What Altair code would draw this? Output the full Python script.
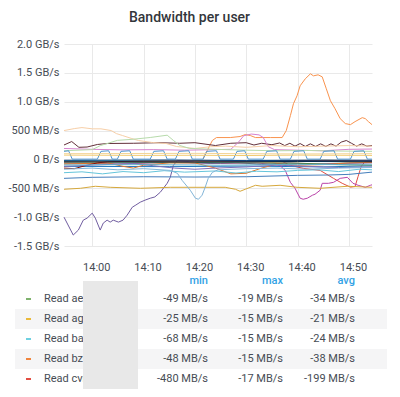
import altair as alt
import pandas as pd

TITLE = "Bandwidth per user"

# x: minutes after 14:00, y: MB/s
x_ticks = [0, 10, 20, 30, 40, 50]
x_labels = ["14:00", "14:10", "14:20", "14:30", "14:40", "14:50"]
x_range = [-5.5, 54.5]
y_ticks = [-1500, -1000, -500, 0, 500, 1000, 1500, 2000]
y_labels = ["-1.5 GB/s", "-1.0 GB/s", "-500 MB/s", "0 B/s", "500 MB/s", "1.0 GB/s", "1.5 GB/s", "2.0 GB/s"]
y_range = [-1500, 2000]

# ---- series (time in minutes after 14:00, value in MB/s) ----
read_ae_t = [-5.5, -1, 4, 9, 14, 19, 24, 29, 34, 39, 44, 49, 54.5]
read_ae_v = [-30, -36, -28, -40, -33, -45, -30, -19, -38, -34, -30, -42, -49]
read_ag_t = [-5.5, 5, 15, 25, 35, 45, 54.5]
read_ag_v = [-20, -22, -18, -24, -21, -15, -25]
read_ba_t = [-5.5, 0, 8, 16, 20, 26, 32, 40, 46, 50, 54.5]
read_ba_v = [-20, -18, -25, -22, -68, -30, -15, -20, -24, -20, -28]
read_bz_t = [-5.5, 5, 15, 25, 35, 45, 54.5]
read_bz_v = [-40, -35, -45, -38, -48, -30, -15]
read_cv_t = [36.6, 38.6, 41.1, 44.4, 47.0, 48.7, 50.3, 51.2, 51.8, 52.4, 53.2, 54.5]
read_cv_v = [-17, -103, -155, -190, -328, -414, -480, -470, -293, -121, -30, -40]
read_dh_t = [-5.5, 15, 30, 45, 54.5]
read_dh_v = [-120, -125, -115, -130, -110]
read_ek_t = [-5.5, 5, 15, 25, 32, 36.5, 37.6, 38.6, 39.5, 40.5, 41.1, 41.9, 42.9, 43.4, 44.4, 44.8,
             46.0, 47.0, 48.3, 49.7, 50.8, 51.8, 53.2, 54.2, 54.5]
read_ek_v = [-60, -80, -50, -70, -60, -100, -190, -397, -500, -672, -690, -672, -620, -603, -534, -414,
             -414, -397, -328, -310, -414, -448, -483, -448, -440]
read_fm_t = [-5.5, -3.7, -2.7, -1.75, -1.0, 0, 0.6, 1.55, 2.15, 2.9, 3.5, 4.1, 5.1, 6.0, 6.8, 7.8,
             8.5, 9.35, 10.3, 11.3, 12.2, 13.25, 14.6, 15.2, 15.8, 16.6, 19, 23, 28, 33, 38, 43, 48, 54.5]
read_fm_v = [-1000, -1310, -1224, -1052, -1017, -931, -1017, -1224, -1103, -1052, -1086, -1052, -1086,
             -1052, -966, -828, -790, -741, -705, -672, -650, -569, -414, -310, -103, -17, -40, -70,
             -50, -90, -60, -80, -70, -60]
read_gp_t = [-5.5, 20, 40, 48, 54.5]
read_gp_v = [-60, -55, -65, -90, -100]
read_hs_t = [-5.5, -2.3, 0.6, 3.5, 9.4, 15.2, 21, 25.9, 27.9, 28.8, 29.8, 31.8, 33.1, 36.6, 39.9, 44.4, 49.7, 54.5]
read_hs_v = [-517, -500, -465, -483, -500, -483, -483, -483, -517, -552, -517, -448, -465, -448, -483, -500, -465, -483]
read_jt_t = [-5.5, 0, 10, 20, 30, 40, 46, 50, 54.5]
read_jt_v = [-328, -310, -300, -305, -300, -276, -270, -259, -220]
read_kv_t = [-5.5, 3, 6, 8, 10, 15, 20, 24, 27, 30, 33, 36, 40, 45, 50, 54.5]
read_kv_v = [-80, -60, -120, -150, -100, -60, -60, -150, -250, -240, -150, -80, -100, -90, -60, -50]
read_lx_t = [-5.5, -3.5, -1, 1, 3, 10, 20, 30, 40, 54.5]
read_lx_v = [-150, -160, -100, -60, -40, -30, -25, -30, -20, -25]
read_mz_t = [-5.5, 15, 30, 45, 54.5]
read_mz_v = [-15, -10, -20, -12, -15]
read_nb_t = [-5.5, 5, 8, 12, 16, 20, 24, 30, 36, 42, 48, 54.5]
read_nb_v = [-120, -80, -70, -110, -150, -170, -150, -130, -100, -120, -140, -130]
read_pc_t = [-5.5, -2, 2, 6, 10, 14, 18, 24, 28, 32, 36, 40, 44, 48, 52, 54.5]
read_pc_v = [-230, -215, -250, -210, -230, -195, -220, -200, -235, -205, -215, -190, -180, -210, -170, -180]
read_qd_t = [-5.5, 0, 5, 10, 15.2, 16.6, 17.5, 19.1, 20.1, 20.7, 21.4, 22.0, 22.6, 23.4, 24.5, 30, 36, 42, 48, 54.5]
read_qd_v = [-170, -150, -180, -160, -190, -241, -362, -534, -672, -690, -620, -483, -328, -224, -180, -160, -150, -170, -150, -140]
read_rf_t = [-5.5, 10, 25, 40, 54.5]
read_rf_v = [-95, -90, -100, -85, -95]
read_sg_t = [-5.5, 20, 40, 54.5]
read_sg_v = [-40, -45, -35, -40]

write_a_t = [21.6, 22.4, 23.4, 24.2, 26.9, 28.8, 29.8, 30.8, 31.8, 34.7, 37.0, 37.8, 38.6, 39.2, 39.9,
             40.5, 41.5, 42.5, 43.1, 44.0, 44.8, 45.6, 46.4, 47.3, 48.3, 49.3, 50.3, 51.2, 52.6, 53.2, 53.8, 54.5]
write_a_v = [17, 155, 328, 379, 379, 397, 431, 414, 379, 379, 379, 500, 759, 966, 1103, 1276, 1397,
             1483, 1448, 1466, 1431, 1224, 1017, 879, 707, 621, 603, 655, 724, 707, 655, 603]
write_b_t = [-5.5, -4.0, -2.6, -1.0, 1, 3, 8, 13, 17, 20, 24, 27, 30, 31.5, 33, 35, 36.5, 37.5, 38.5,
             39.5, 40.5, 41.5, 42.5, 43.5, 44.5, 45.5, 46.5, 47.5, 48.5, 49.5, 50.5, 51.5, 52.5, 53.5, 54.5]
write_b_v = [250, 310, 210, 215, 259, 276, 280, 290, 280, 290, 241, 280, 290, 250, 280, 255, 285, 240,
             280, 230, 275, 225, 270, 225, 270, 225, 270, 230, 300, 328, 280, 230, 270, 230, 241]
write_c_t = [-5.5, 0, 6, 12, 18, 24, 27, 28.5, 29.5, 31, 32.5, 33.3, 34.3, 35.5, 40, 45, 50, 54.5]
write_c_v = [190, 175, 165, 170, 160, 170, 175, 300, 410, 440, 425, 380, 220, 170, 160, 150, 175, 180]
write_d_t = [-5.5, -3.5, -2, 0, 1.7, 3.7, 4.7, 5.9, 7.7, 9.0, 11.7, 14.4, 16.4, 20, 23, 26, 30, 35, 40, 45, 50, 54.5]
write_d_v = [500, 534, 552, 530, 530, 500, 448, 414, 362, 328, 293, 276, 224, 190, 220, 230, 210, 240, 220, 230, 240, 230]
write_e_t = [-5.5, 0, 1.6, 4.9, 8, 11.3, 14.6, 15.8, 17.1, 19, 24, 30, 36, 42, 48, 54.5]
write_e_v = [150, 170, 240, 330, 350, 380, 420, 330, 240, 190, 175, 160, 150, 155, 145, 140]
write_f_t = [-5.5, -4.6, -3.9, 1.0, 1.7, 3.2, 3.9, 4.9, 5.6, 7.3, 8.0, 11.3, 12.0, 13.9, 14.6,
             16.2, 16.9, 18.8, 19.5, 21.6, 22.3, 24.2, 24.9, 27.5, 28.2, 29.7, 30.4, 33.3, 34.0, 35.9, 36.6,
             38.6, 39.3, 41.2, 41.9, 44.4, 45.1, 47.1, 47.8, 50.3, 51.0, 52.9, 53.6, 54.5]
write_f_v = [140, 150, 5, 5, 140, 150, 5, 5, 140, 150, 5, 5, 140, 150, 5,
             5, 140, 150, 5, 5, 140, 150, 5, 5, 140, 150, 5, 5, 140, 150, 5,
             5, 140, 150, 5, 5, 140, 150, 5, 5, 140, 150, 5, 5]
write_g_t = [-5.5, 10, 20, 30, 40, 54.5]
write_g_v = [75, 70, 72, 68, 75, 70]
write_h_t = [-5.5, 20, 40, 54.5]
write_h_v = [100, 105, 95, 100]

series_names = ["Read ae", "Read ag", "Read ba", "Read bz", "Read cv", "Read dh", "Read ek", "Read fm",
                "Read gp", "Read hs", "Read jt", "Read kv", "Read lx", "Read mz", "Read nb", "Read pc",
                "Read qd", "Read rf", "Read sg", "Write al", "Write bm", "Write cn", "Write do",
                "Write ep", "Write fq", "Write gr", "Write hs"]
series_colors = ["#7EB26D", "#EAB839", "#6ED0E0", "#EF843C", "#E24D42", "#1F78C1", "#BA43A9", "#705DA0",
                 "#508642", "#D6A83C", "#447EBC", "#E0752D", "#890F02", "#0A437C", "#806EB7", "#65C5DB",
                 "#82B5D8", "#64B0C8", "#052B51", "#F9934E", "#63303A", "#D683CE", "#F7CFA8",
                 "#B7DBAB", "#5195CE", "#F2C96D", "#F4D598"]
series_t = [read_ae_t, read_ag_t, read_ba_t, read_bz_t, read_cv_t, read_dh_t, read_ek_t, read_fm_t,
            read_gp_t, read_hs_t, read_jt_t, read_kv_t, read_lx_t, read_mz_t, read_nb_t, read_pc_t,
            read_qd_t, read_rf_t, read_sg_t, write_a_t, write_b_t, write_c_t, write_d_t, write_e_t,
            write_f_t, write_g_t, write_h_t]
series_v = [read_ae_v, read_ag_v, read_ba_v, read_bz_v, read_cv_v, read_dh_v, read_ek_v, read_fm_v,
            read_gp_v, read_hs_v, read_jt_v, read_kv_v, read_lx_v, read_mz_v, read_nb_v, read_pc_v,
            read_qd_v, read_rf_v, read_sg_v, write_a_v, write_b_v, write_c_v, write_d_v, write_e_v,
            write_f_v, write_g_v, write_h_v]

# ---- legend table ----
legend_names = ["Read aem-user", "Read agr-user", "Read bal-user", "Read bzu-user", "Read cvn-user"]
legend_colors = ["#7EB26D", "#EAB839", "#6ED0E0", "#EF843C", "#E24D42"]
legend_min = ["-49 MB/s", "-25 MB/s", "-68 MB/s", "-48 MB/s", "-480 MB/s"]
legend_max = ["-19 MB/s", "-15 MB/s", "-15 MB/s", "-15 MB/s", "-17 MB/s"]
legend_avg = ["-34 MB/s", "-21 MB/s", "-24 MB/s", "-38 MB/s", "-199 MB/s"]
legend_headers = ["min", "max", "avg"]

rows = []
for name, ts, vs in zip(series_names, series_t, series_v):
    for t, v in zip(ts, vs):
        rows.append({"series": name, "t": t, "v": v})
df = pd.DataFrame(rows)


def label_expr(vals, labels):
    expr = "''"
    for v, l in reversed(list(zip(vals, labels))):
        expr = f"datum.value == {v} ? '{l}' : ({expr})"
    return expr


FONT = "Roboto"
TXT = "#464c54"
ROW_H = 100  # table body height (5 rows)

lines = alt.Chart(df).mark_line(strokeWidth=1).encode(
    x=alt.X("t:Q", scale=alt.Scale(domain=x_range, nice=False, zero=False),
            axis=alt.Axis(values=x_ticks, labelExpr=label_expr(x_ticks, x_labels), title=None,
                          labelPadding=15, labelFlush=False, labelOffset=4)),
    y=alt.Y("v:Q", scale=alt.Scale(domain=y_range, nice=False, zero=False),
            axis=alt.Axis(values=y_ticks, labelExpr=label_expr(y_ticks, y_labels), title=None,
                          labelPadding=5)),
    color=alt.Color("series:N", scale=alt.Scale(domain=series_names, range=series_colors), legend=None),
    detail="series:N",
).properties(width=308, height=202)

tbl = pd.DataFrame({"name": legend_names, "color": legend_colors, "mn": legend_min,
                    "mx": legend_max, "av": legend_avg})

base = alt.Chart(tbl).encode(
    y=alt.Y("name:N", sort=legend_names, axis=None,
            scale=alt.Scale(paddingInner=0, paddingOuter=0)))

bg = base.transform_window(rn="row_number()").transform_filter("datum.rn % 2 == 0").mark_rect(
    color="#f5f5f6").encode(x=alt.value(-49), x2=alt.value(323))
dash = base.mark_rule(strokeWidth=2).encode(x=alt.value(-38), x2=alt.value(-33),
                                             color=alt.Color("color:N", scale=None))
names_t = base.mark_text(align="left", font=FONT, fontSize=11, color=TXT).encode(
    x=alt.value(-20), text="name:N")
min_t = base.mark_text(align="right", font=FONT, fontSize=11, color=TXT).encode(x=alt.value(144), text="mn:N")
max_t = base.mark_text(align="right", font=FONT, fontSize=11, color=TXT).encode(x=alt.value(219), text="mx:N")
avg_t = base.mark_text(align="right", font=FONT, fontSize=11, color=TXT).encode(x=alt.value(291), text="av:N")

hdr_x = [144, 219, 291]
hdrs = [alt.Chart(alt.Data(values=[{"h": h}])).mark_text(
    align="right", font=FONT, fontSize=11, fontWeight=500, color="#33a2e5").encode(
    text="h:N", x=alt.value(x), y=alt.value(-8)) for h, x in zip(legend_headers, hdr_x)]

block = alt.Chart(alt.Data(values=[{"b": 1}])).mark_rect(color="#e8e8e8").encode(
    x=alt.value(19), x2=alt.value(74), y=alt.value(-8), y2=alt.value(ROW_H))

table = alt.layer(bg, dash, names_t, min_t, max_t, avg_t, *hdrs, block).properties(width=323, height=ROW_H)

chart = alt.vconcat(lines, table, spacing=3).properties(
    title=alt.Title(TITLE, font=FONT, fontSize=14, fontWeight=500, color="#33363b",
                    anchor="middle", offset=17, dx=-8, dy=4),
    padding={"top": 3, "bottom": 0, "left": 0, "right": 0},
    background="white",
).configure_view(strokeWidth=0).configure_axis(
    domain=False, ticks=False, grid=True, gridColor="#e9e9e9", gridWidth=1,
    labelFont=FONT, labelFontSize=11, labelColor=TXT,
)

chart.save("out.html", embed_options={"renderer": "svg", "actions": False})
